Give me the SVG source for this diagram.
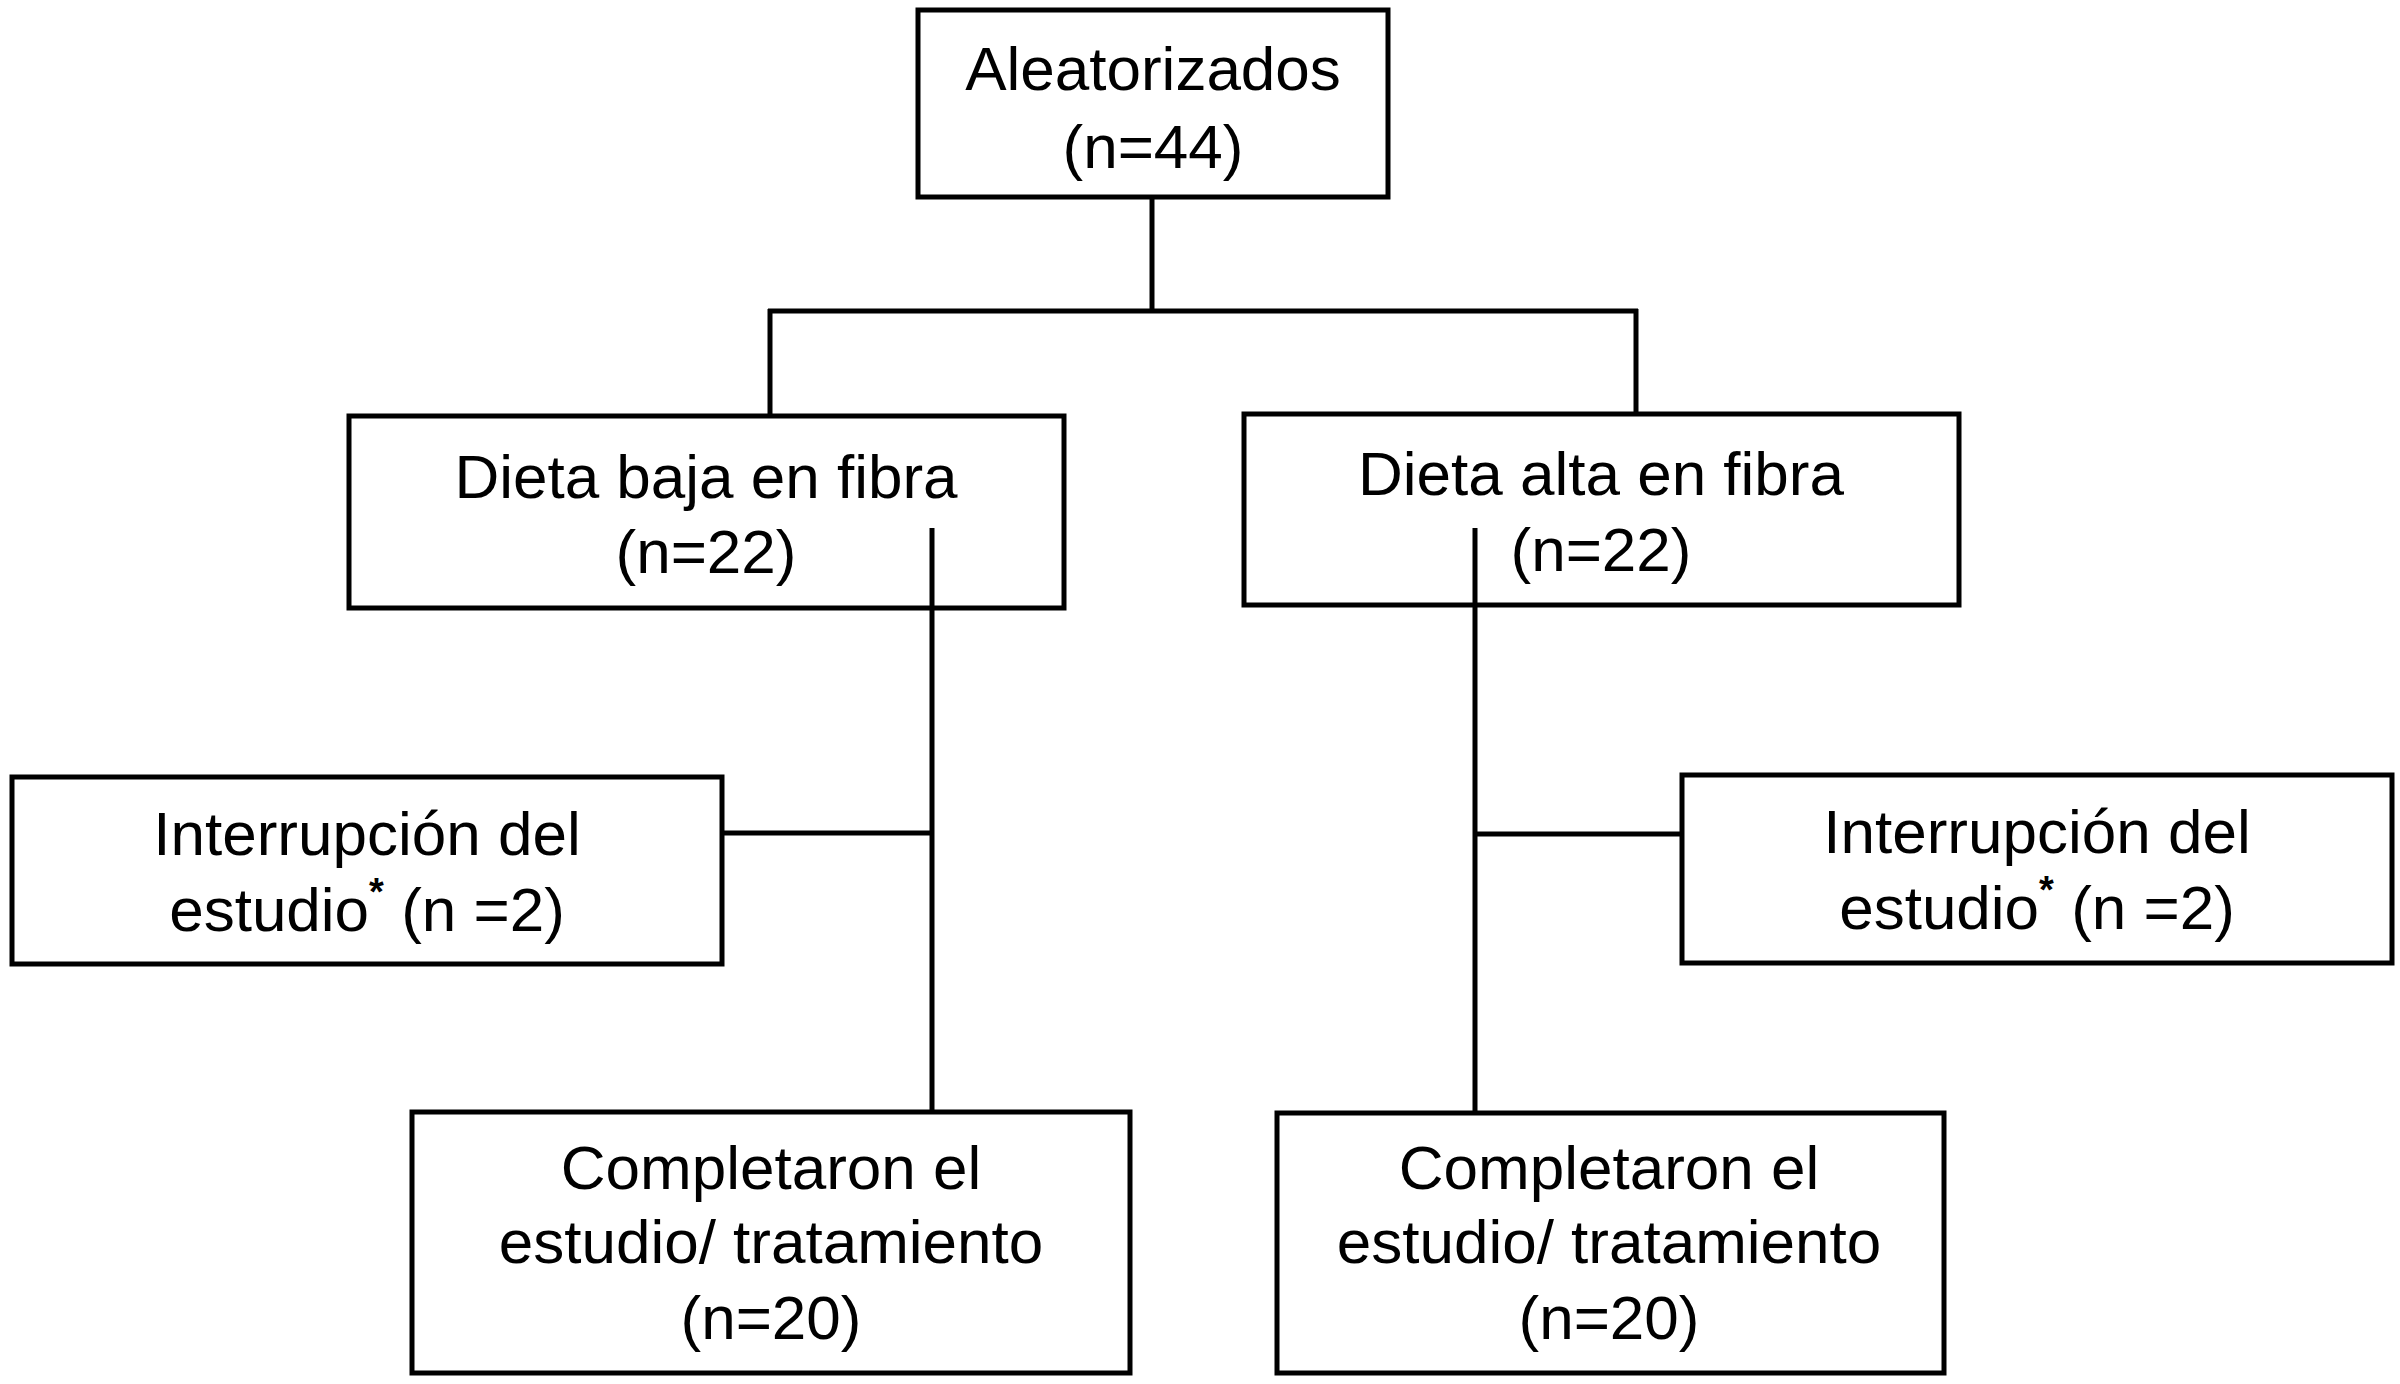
<svg xmlns="http://www.w3.org/2000/svg" width="2400" height="1384" viewBox="0 0 2400 1384">
<style>
.box{fill:#fff;stroke:#000;stroke-width:5}
.ln{stroke:#000;stroke-width:5;fill:none}
text{font-family:"Liberation Sans",Arial,sans-serif;font-size:62px;fill:#000;text-anchor:middle}
.sup{font-size:38px;font-weight:bold}
</style>
<rect width="2400" height="1384" fill="#fff"/>
<g id="n-random">
<rect class="box" x="918" y="10" width="470" height="187"/>
<text x="1153" y="90">Aleatorizados</text>
<text x="1153" y="168">(n=44)</text>
</g>
<g id="n-baja">
<rect class="box" x="349" y="416" width="715" height="192"/>
<text x="706" y="498">Dieta baja en fibra</text>
<text x="706" y="573">(n=22)</text>
</g>
<g id="n-alta">
<rect class="box" x="1244" y="414" width="715" height="191"/>
<text x="1601" y="495">Dieta alta en fibra</text>
<text x="1601" y="571">(n=22)</text>
</g>
<g id="n-int-left">
<rect class="box" x="12" y="777" width="710" height="187"/>
<text x="367" y="855">Interrupción del</text>
<text x="367" y="931">estudio<tspan class="sup" dy="-26">*</tspan><tspan dy="26"> (n =2)</tspan></text>
</g>
<g id="n-int-right">
<rect class="box" x="1682" y="775" width="710" height="188"/>
<text x="2037" y="853">Interrupción del</text>
<text x="2037" y="929">estudio<tspan class="sup" dy="-26">*</tspan><tspan dy="26"> (n =2)</tspan></text>
</g>
<g id="n-comp-left">
<rect class="box" x="412" y="1112" width="718" height="261"/>
<text x="771" y="1189">Completaron el</text>
<text x="771" y="1263">estudio/ tratamiento</text>
<text x="771" y="1339">(n=20)</text>
</g>
<g id="n-comp-right">
<rect class="box" x="1277" y="1113" width="667" height="260"/>
<text x="1609" y="1189">Completaron el</text>
<text x="1609" y="1263">estudio/ tratamiento</text>
<text x="1609" y="1339">(n=20)</text>
</g>
<g id="connectors">
<line class="ln" x1="1152" y1="197" x2="1152" y2="311"/>
<line class="ln" x1="768" y1="311" x2="1638" y2="311"/>
<line class="ln" x1="770" y1="309" x2="770" y2="416"/>
<line class="ln" x1="1636" y1="309" x2="1636" y2="414"/>
<line class="ln" x1="932" y1="528" x2="932" y2="1112"/>
<line class="ln" x1="722" y1="833" x2="932" y2="833"/>
<line class="ln" x1="1475" y1="528" x2="1475" y2="1113"/>
<line class="ln" x1="1475" y1="834" x2="1682" y2="834"/>
</g>
</svg>
